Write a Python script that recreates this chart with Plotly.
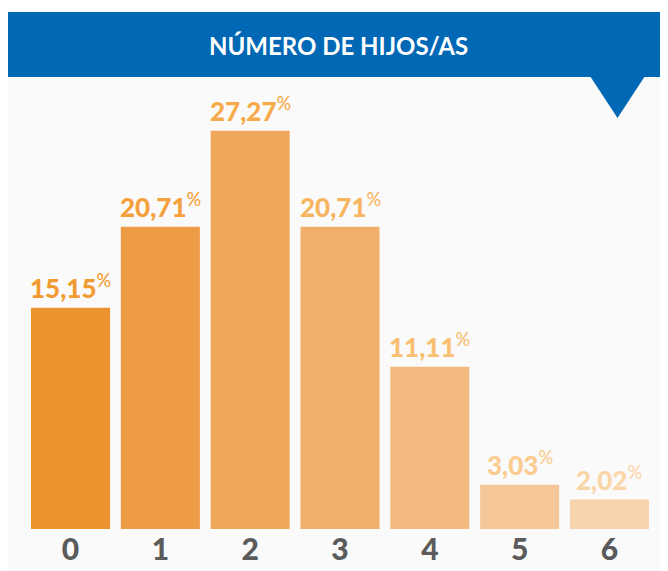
import plotly.graph_objects as go

categories = ["0", "1", "2", "3", "4", "5", "6"]
values = [15.15, 20.71, 27.27, 20.71, 11.11, 3.03, 2.02]
labels = ["15,15", "20,71", "27,27", "20,71", "11,11", "3,03", "2,02"]
bar_colors = ["#EC922F", "#ED9B45", "#EFA75C", "#F0AF6A", "#F2BA7E", "#F4C698", "#F6D2AD"]
label_colors = ["#F29B32", "#F4A13D", "#F6AA4A", "#F7B55F", "#F9BF72", "#FACC90", "#FAD5A8"]
title = "NÚMERO DE HIJOS/AS"

W, H = 668, 571
OFF = 8  # page body margin
def px(x):
    return (x - OFF) / W
def py(y):
    return 1 - (y - OFF) / H

fig = go.Figure()
fig.add_trace(go.Bar(
    x=categories, y=values,
    marker=dict(color=bar_colors, line=dict(width=0)),
    hoverinfo="skip",
))

annotations = []
for c, v, t, col in zip(categories, values, labels, label_colors):
    annotations.append(dict(
        x=c, y=v, xref="x", yref="y",
        text=t + "<sup><span style='font-weight:500'>%</span></sup>",
        showarrow=False, yanchor="bottom", yshift=2,
        font=dict(family="Lato", size=26, color=col, weight=900),
    ))
annotations.append(dict(
    x=px(338), y=py(45), xref="paper", yref="paper",
    text=title, showarrow=False,
    font=dict(family="Lato", size=24, color="white", weight=700),
    xanchor="center", yanchor="middle",
))

shapes = [
    dict(type="rect", xref="paper", yref="paper", x0=px(8), x1=1.1, y0=-0.1, y1=py(77),
         fillcolor="#FAFAFA", line=dict(width=0), layer="below"),
    dict(type="rect", xref="paper", yref="paper", x0=px(8), x1=1.1, y0=py(77), y1=py(12),
         fillcolor="#0068B5", line=dict(width=0), layer="below"),
    dict(type="path", xref="paper", yref="paper",
         path=f"M {px(590)} {py(76)} L {px(645)} {py(76)} L {px(617.5)} {py(118)} Z",
         fillcolor="#0068B5", line=dict(width=0), layer="below"),
]

fig.update_layout(
    width=W, height=H,
    margin=dict(l=0, r=0, t=0, b=0),
    paper_bgcolor="white", plot_bgcolor="rgba(0,0,0,0)",
    bargap=0.12, showlegend=False,
    annotations=annotations, shapes=shapes,
    xaxis=dict(domain=[px(25.6), px(654.4)], showgrid=False, zeroline=False, showline=False,
               ticks="", tickfont=dict(family="Lato", size=30, color="#5B5B5B", weight=900),
               fixedrange=True),
    yaxis=dict(domain=[py(529), py(90)], range=[0, (529 - 90) / 14.6], visible=False,
               fixedrange=True),
)

fig.write_html("out.html")
